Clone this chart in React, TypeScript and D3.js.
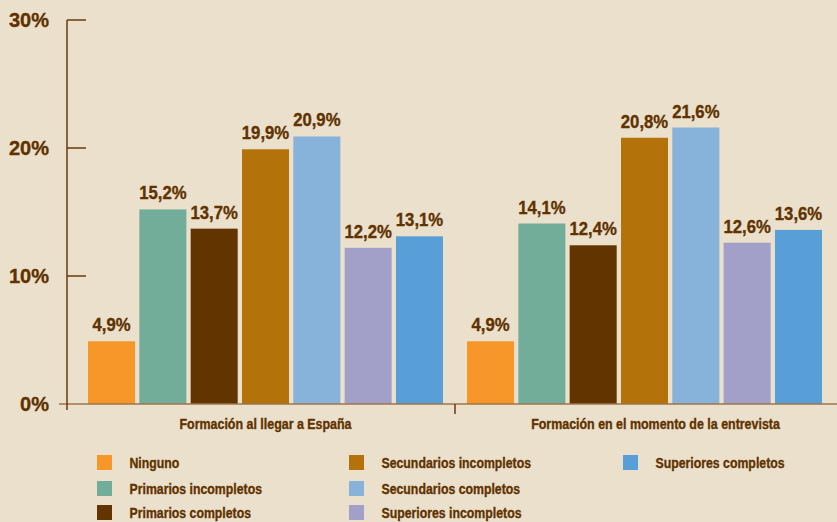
import React from "react";
import * as d3 from "d3";

const groups = ["Formación al llegar a España", "Formación en el momento de la entrevista"];
const levels = [
  "Ninguno",
  "Primarios incompletos",
  "Primarios completos",
  "Secundarios incompletos",
  "Secundarios completos",
  "Superiores incompletos",
  "Superiores completos",
];
const llegada = [4.9, 15.2, 13.7, 19.9, 20.9, 12.2, 13.1];
const entrevista = [4.9, 14.1, 12.4, 20.8, 21.6, 12.6, 13.6];
const yTicks = [0, 10, 20, 30];
const colors = ["#F7972A", "#72AD9A", "#623400", "#B4720A", "#87B2DA", "#A29FC8", "#579FD6"];
const legendCol = [0, 0, 0, 1, 1, 1, 2];
const legendRow = [0, 1, 2, 0, 1, 2, 0];

const W = 837;
const H = 522;
const BG = "#EBE0CB";
const TXT = "#5F3200";
const AX = "#6B3A0B";
const FONT = "'Liberation Sans', Arial, sans-serif";

function CText(props: {
  x: number;
  y: number;
  size: number;
  sx: number;
  anchor?: string;
  children: React.ReactNode;
}) {
  return (
    <text
      transform={`translate(${props.x},${props.y}) scale(${props.sx},1)`}
      textAnchor={props.anchor || "start"}
      fontFamily={FONT}
      fontWeight="bold"
      fontSize={props.size}
      fill={TXT}
      stroke={TXT}
      strokeWidth={0.35}
    >
      {props.children}
    </text>
  );
}

export default function App() {
  const series = [llegada, entrevista];
  const y = d3.scaleLinear().domain([0, 30]).range([404, 20]);
  const x0 = d3.scaleBand<string>().domain(groups).range([76, 834]).paddingInner(0).paddingOuter(0);
  const x1 = d3
    .scaleBand<string>()
    .domain(levels)
    .range([0, x0.bandwidth()])
    .paddingInner(0.084)
    .paddingOuter(0.234);
  const fmt = (v: number) => v.toFixed(1).replace(".", ",") + "%";
  const legX = [97, 349, 623];
  const legY = [455, 481, 505];

  return (
    <svg width={W} height={H} style={{ position: "absolute", left: 0, top: 0, background: BG }}>
      <rect x={0} y={0} width={W} height={H} fill={BG} />
      {groups.map((g, gi) => (
        <g key={g} transform={`translate(${x0(g)},0)`}>
          {levels.map((l, li) => {
            const v = series[gi][li];
            const bx = x1(l)!;
            return (
              <g key={l}>
                <rect x={bx} y={y(v)} width={x1.bandwidth()} height={y(0) - y(v)} fill={colors[li]} />
                <CText x={bx + x1.bandwidth() / 2} y={y(v) - 10} size={19} sx={0.88} anchor="middle">
                  {fmt(v)}
                </CText>
              </g>
            );
          })}
          <CText x={x0.bandwidth() / 2 + (gi === 1 ? 11 : 0)} y={428.5} size={15} sx={0.83} anchor="middle">
            {g}
          </CText>
        </g>
      ))}
      <line x1={59} x2={W} y1={y(0)} y2={y(0)} stroke="#9C7448" strokeWidth={1.5} />
      <line x1={x0(groups[1])!} x2={x0(groups[1])!} y1={y(0)} y2={414} stroke={AX} strokeWidth={1.5} />
      <line x1={67} x2={67} y1={y(30)} y2={410} stroke={AX} strokeWidth={1.5} />
      {yTicks.map((t) => (
        <g key={t}>
          {t > 0 && <line x1={67} x2={86} y1={y(t)} y2={y(t)} stroke={AX} strokeWidth={1.5} />}
          <text
            x={49}
            y={y(t) + 7}
            textAnchor="end"
            fontFamily={FONT}
            fontWeight="bold"
            fontSize={20}
            fill={TXT}
            stroke={TXT}
            strokeWidth={0.35}
          >
            {t + "%"}
          </text>
        </g>
      ))}
      {levels.map((l, li) => {
        const lx = legX[legendCol[li]];
        const ly = legY[legendRow[li]];
        return (
          <g key={l}>
            <rect x={lx} y={ly} width={15} height={15} fill={colors[li]} />
            <CText x={lx + 32.5} y={ly + 12.5} size={15} sx={0.82}>
              {l}
            </CText>
          </g>
        );
      })}
    </svg>
  );
}
